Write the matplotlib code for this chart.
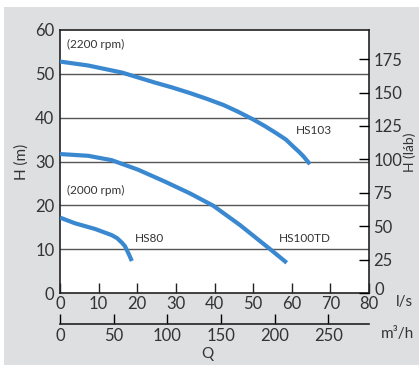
import matplotlib
matplotlib.use("Agg")
from matplotlib import pyplot as plt
from matplotlib.patches import Rectangle
from matplotlib.transforms import ScaledTranslation

plt.rcParams['font.family'] = ['Lato', 'DejaVu Sans']

# pump curves: Q (l/s) vs H (m)
q_hs103 = [0, 7.3, 16, 24.6, 29, 33.7, 38, 42.3, 46, 50, 53, 56.1, 58.5, 60.4, 62, 63, 64.7]
h_hs103 = [52.8, 51.9, 50.3, 48.0, 46.9, 45.6, 44.3, 42.9, 41.4, 39.6, 38.1, 36.4, 35.0, 33.4, 32.1, 31.2, 29.4]

q_hs100 = [0, 7.3, 13.4, 20.3, 27.2, 33.7, 39.7, 46.6, 54.4, 58.7]
h_hs100 = [31.7, 31.3, 30.3, 28.1, 25.4, 22.7, 19.9, 15.5, 10.0, 6.9]

q_hs80 = [0, 3.9, 9.1, 13.4, 14.8, 16.0, 16.8, 17.3, 17.9, 18.6]
h_hs80 = [17.2, 15.9, 14.6, 13.2, 12.5, 11.5, 10.7, 9.8, 8.7, 7.3]

x_ticks = [0, 10, 20, 30, 40, 50, 60, 70, 80]
y_ticks = [0, 10, 20, 30, 40, 50, 60]
ft_ticks = [0, 25, 50, 75, 100, 125, 150, 175]
m3h_ticks = [0, 50, 100, 150, 200, 250]

blue = "#3a88cf"
dark = "#333333"
W, H = 419, 365

fig = plt.figure(figsize=(W / 100, H / 100), dpi=100)
fig.patch.set_facecolor("white")
fig.patches.append(Rectangle((4 / W, 0), 1, (H - 7) / H, transform=fig.transFigure,
                             facecolor="#dedfe1", edgecolor="none", zorder=-1))

ax = fig.add_axes([60 / W, (H - 293) / H, (369 - 60) / W, (293 - 30) / H])
ax.set_facecolor("white")
ax.set_xlim(0, 80)
ax.set_ylim(0, 60)
for s in ax.spines.values():
    s.set_color("#222222")
    s.set_linewidth(1.2)

for y in [10, 20, 30, 40, 50]:
    ax.axhline(y, color="#555555", lw=1.0, zorder=1)

for q, h in [(q_hs103, h_hs103), (q_hs100, h_hs100), (q_hs80, h_hs80)]:
    ax.plot(q, h, color=blue, lw=3, solid_capstyle="butt", solid_joinstyle="round", zorder=3)

ax.set_xticks(x_ticks)
ax.set_yticks(y_ticks)
ax.tick_params(axis="x", direction="in", length=7, width=1, labelsize=12, colors="#222222",
               labelcolor=dark, pad=2)
ax.tick_params(axis="y", direction="in", length=0, labelsize=12, labelcolor=dark, pad=4)
ax.set_ylabel("H (m)", fontsize=11, color=dark, labelpad=5)

kw = dict(fontsize=8.5, color=dark)
ax.text(1.8, 56.8, "(2200 rpm)", va="center", ha="left", **kw)
ax.text(1.8, 23.5, "(2000 rpm)", va="center", ha="left", **kw)
ax.text(61.0, 37.0, "HS103", va="center", ha="left", **kw)
ax.text(19.3, 12.5, "HS80", va="center", ha="left", **kw)
ax.text(56.7, 12.5, "HS100TD", va="center", ha="left", **kw)

# right axis in feet
ax2 = ax.twinx()
ax2.set_ylim(0, 60 * 3.28084)
ax2.set_yticks(ft_ticks)
ax2.tick_params(axis="y", direction="in", length=7, width=1, labelsize=12, labelcolor=dark, pad=3)
for s in ax2.spines.values():
    s.set_visible(False)
zero_lbl = ax2.get_yticklabels()[0]
zero_lbl.set_transform(zero_lbl.get_transform() + ScaledTranslation(1 / 72, 3 / 72, fig.dpi_scale_trans))
fig.text(410 / W, 1 - 152 / H, "H (láb)", fontsize=10, color=dark, rotation=90,
         ha="center", va="center")

# secondary flow axis in m3/h
sec = ax.secondary_xaxis(-31 / 263, functions=(lambda x: x * 3.6, lambda x: x / 3.6))
sec.set_xticks(m3h_ticks)
sec.tick_params(axis="x", direction="in", length=7, width=1, labelsize=12, labelcolor=dark, pad=3)
sec.spines["bottom"].set_linewidth(1.2)
sec.spines["bottom"].set_color("#222222")

fig.text(404 / W, 1 - 302 / H, "l/s", fontsize=11, color=dark, ha="center", va="center")
fig.text(397 / W, 1 - 334 / H, "m³/h", fontsize=11, color=dark, ha="center", va="center")
fig.text(207 / W, 1 - 354 / H, "Q", fontsize=11, color=dark, ha="center", va="center")

fig.savefig("out.png", dpi=100)
